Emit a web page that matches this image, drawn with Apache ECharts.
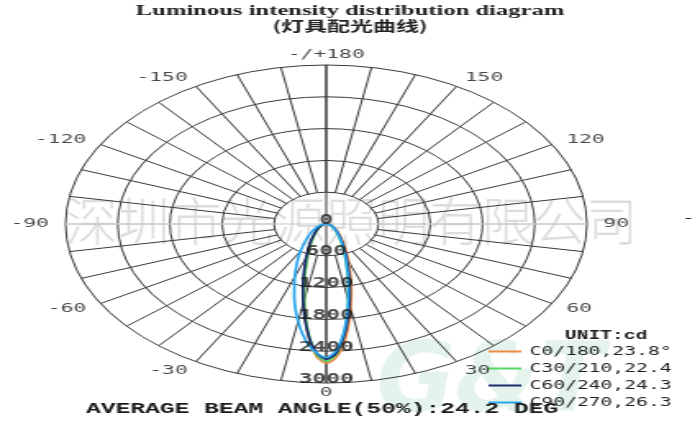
<!DOCTYPE html>
<html>
<head>
<meta charset="utf-8">
<script src="https://cdn.jsdelivr.net/npm/echarts/dist/echarts.min.js"></script>
<style>
  html, body { margin: 0; padding: 0; background: #fff; overflow: hidden; }
  #wrap { width: 700px; height: 424px; overflow: hidden; }
  #main { width: 427px; height: 424px; transform: scaleX(1.63934); transform-origin: 0 0; }
</style>
</head>
<body>
<div id="wrap"><div id="main"></div></div>
<script>
// ---- data ----
const angles = [-90,-80,-70,-60,-50,-40,-30,-25,-20,-15,-12.5,-10,-7.5,-5,-2.5,0,2.5,5,7.5,10,12.5,15,20,25,30,40,50,60,70,80,90];
const c0  = [0,18,38,65,106,174,308,430,625,945,1180,1470,1825,2200,2505,2630,2530,2280,1950,1620,1335,1095,750,528,384,220,134,83,48,22,0];
const c30 = [0,18,38,64,104,172,304,425,615,930,1160,1450,1800,2165,2470,2590,2475,2180,1815,1465,1170,940,622,432,305,172,101,62,36,17,0];
const c60 = [0,20,43,73,118,194,342,475,680,1008,1240,1520,1850,2182,2445,2550,2455,2190,1865,1535,1250,1020,688,478,348,198,121,75,44,20,0];
const c90 = [0,36,78,130,210,340,590,790,1060,1420,1640,1865,2095,2300,2440,2520,2410,2135,1795,1462,1183,957,641,446,323,183,111,69,41,18,0];
const seriesNames = ['C0/180,23.8°','C30/210,22.4','C60/240,24.3','C90/270,26.3'];
const seriesColors = ['#ee8a45','#55d66b','#1a2a6c','#2aa6ee'];
const radiusTicks = [0,600,1200,1800,2400,3000];
const angleTickValues = [180,-150,-120,-90,-60,-30,0,30,60,90,120,150];
const angleTickLabels = ['-/+180','-150','-120','-90','-60','-30','0','30','60','90','120','150'];
const titleText = 'Luminous intensity distribution diagram';
const subtitleText = '(灯具配光曲线)';
const footerText = 'AVERAGE BEAM ANGLE(50%):24.2 DEG';
const unitText = 'UNIT:cd';
const watermarkText = '深圳市光源照明有限公司';

// ---- layout ----
const S = 700 / 427;
const CX = 199, CY = 224, R = 159;
const LABEL_R = 3190;

const allSeries = [c0, c30, c60, c90];
const toPolar = vals => vals.map((v, i) => [v, angles[i]]);

const spokeColors = [];
for (let i = 0; i < 18; i++) spokeColors.push(i === 9 ? '#c8c8c8' : '#3a3a3a');

const chart = echarts.init(document.getElementById('main'));
const series = [];

// vertical 0/180 axis through centre
series.push({
  type: 'line', coordinateSystem: 'polar', polarIndex: 0,
  data: [[3000, 180], [3000, 0]], symbol: 'none', silent: true, z: 1,
  lineStyle: { color: '#3a3a3a', width: 1 }
});
// light horizontal -90/90 line
series.push({
  type: 'line', coordinateSystem: 'polar', polarIndex: 0,
  data: [[3000, -90], [3000, 90]], symbol: 'none', silent: true, z: 1,
  lineStyle: { color: '#c8c8c8', width: 1 }
});

allSeries.forEach((vals, i) => {
  series.push({
    name: seriesNames[i], type: 'line', coordinateSystem: 'polar', polarIndex: 0,
    data: toPolar(vals), symbol: 'none', smooth: 0.25, z: 5 + i,
    lineStyle: { color: seriesColors[i], width: 1.7 },
    itemStyle: { color: seriesColors[i] }
  });
});

// radial value labels
series.push({
  type: 'scatter', coordinateSystem: 'polar', polarIndex: 0, silent: true, z: 10,
  data: radiusTicks.map(r => [r, 0]), symbolSize: 0,
  itemStyle: { color: 'rgba(0,0,0,0)' },
  label: { show: true, position: 'inside', offset: [0, -4],
    formatter: p => String(p.value[0]),
    fontFamily: 'DejaVu Sans Mono', fontWeight: 'bold', fontSize: 14, color: '#1a1a1a' }
});
// angle labels
series.push({
  type: 'scatter', coordinateSystem: 'polar', polarIndex: 0, silent: true, z: 10, clip: false,
  data: angleTickValues.map(a => ({
    value: [LABEL_R, a],
    label: { align: (a < 0 && a > -180) ? 'right' : ((a > 0 && a < 180) ? 'left' : 'center') }
  })),
  symbolSize: 0,
  itemStyle: { color: 'rgba(0,0,0,0)' },
  label: { show: true, position: 'inside', verticalAlign: 'middle',
    formatter: p => angleTickLabels[p.dataIndex],
    fontFamily: 'DejaVu Sans Mono', fontSize: 13, color: '#1a1a1a' }
});

const option = {
  animation: false,
  backgroundColor: '#ffffff',
  title: {
    text: titleText, subtext: subtitleText, left: 'center', top: -1, itemGap: 0,
    textStyle: { fontFamily: 'Liberation Serif', fontWeight: 'bold', fontSize: 15, color: '#222' },
    subtextStyle: { fontFamily: 'Noto Sans CJK SC', fontWeight: 'bold', fontSize: 14, color: '#222' }
  },
  legend: {
    data: seriesNames, orient: 'vertical', left: 293, top: 338, itemGap: 0, padding: 5,
    itemWidth: 20, itemHeight: 2, icon: 'rect', selectedMode: false,
    textStyle: { fontFamily: 'DejaVu Sans Mono', fontSize: 12, lineHeight: 17, color: '#222' }
  },
  polar: [
    { center: [CX, CY], radius: [0, R] },
    { center: [CX, CY], radius: [R / 5, R] }
  ],
  angleAxis: [
    { polarIndex: 0, type: 'value', min: -180, max: 180, startAngle: 90, clockwise: false,
      axisLine: { show: false }, axisTick: { show: false }, axisLabel: { show: false }, splitLine: { show: false } },
    { polarIndex: 1, type: 'value', min: -180, max: 180, interval: 10, startAngle: 90, clockwise: false,
      axisLine: { show: false }, axisTick: { show: false }, axisLabel: { show: false },
      splitLine: { show: true, lineStyle: { color: spokeColors, width: 1 } } }
  ],
  radiusAxis: [
    { polarIndex: 0, type: 'value', min: 0, max: 3000, interval: 600,
      axisLine: { show: false }, axisTick: { show: false }, axisLabel: { show: false },
      splitLine: { show: true, lineStyle: { color: '#3a3a3a', width: 1 } } },
    { polarIndex: 1, type: 'value', min: 0, max: 3000, interval: 600,
      axisLine: { show: false }, axisTick: { show: false }, axisLabel: { show: false }, splitLine: { show: false } }
  ],
  graphic: [
    { type: 'text', x: 214.4, y: 221, scaleX: 1 / S, z: -10, silent: true,
      style: { text: watermarkText, fill: '#dddddd', fontSize: 52, fontFamily: 'Noto Sans CJK SC', fontWeight: 300,
        align: 'center', verticalAlign: 'middle' } },
    { type: 'text', x: 299, y: 386, scaleX: 1 / S, z: -10, silent: true,
      style: { text: 'G&T', fill: 'rgba(150,210,180,0.26)', fontSize: 96, fontFamily: 'DejaVu Sans', fontWeight: 'bold', fontStyle: 'italic',
        align: 'center', verticalAlign: 'middle' } },
    { type: 'text', x: 196.4, y: 409, z: 20, silent: true,
      style: { text: footerText, fill: '#1a1a1a', fontSize: 15, fontFamily: 'Liberation Mono', fontWeight: 'bold',
        align: 'center', verticalAlign: 'middle' } },
    { type: 'text', x: 369.7, y: 336, z: 20, silent: true,
      style: { text: unitText, fill: '#1a1a1a', fontSize: 12, fontFamily: 'Liberation Mono', fontWeight: 'bold',
        align: 'center', verticalAlign: 'middle' } },
    { type: 'text', x: 420, y: 219, z: 20, silent: true,
      style: { text: '-', fill: '#1a1a1a', fontSize: 13, fontFamily: 'DejaVu Sans Mono',
        align: 'center', verticalAlign: 'middle' } }
  ],
  series: series
};
chart.setOption(option);
</script>
</body>
</html>
